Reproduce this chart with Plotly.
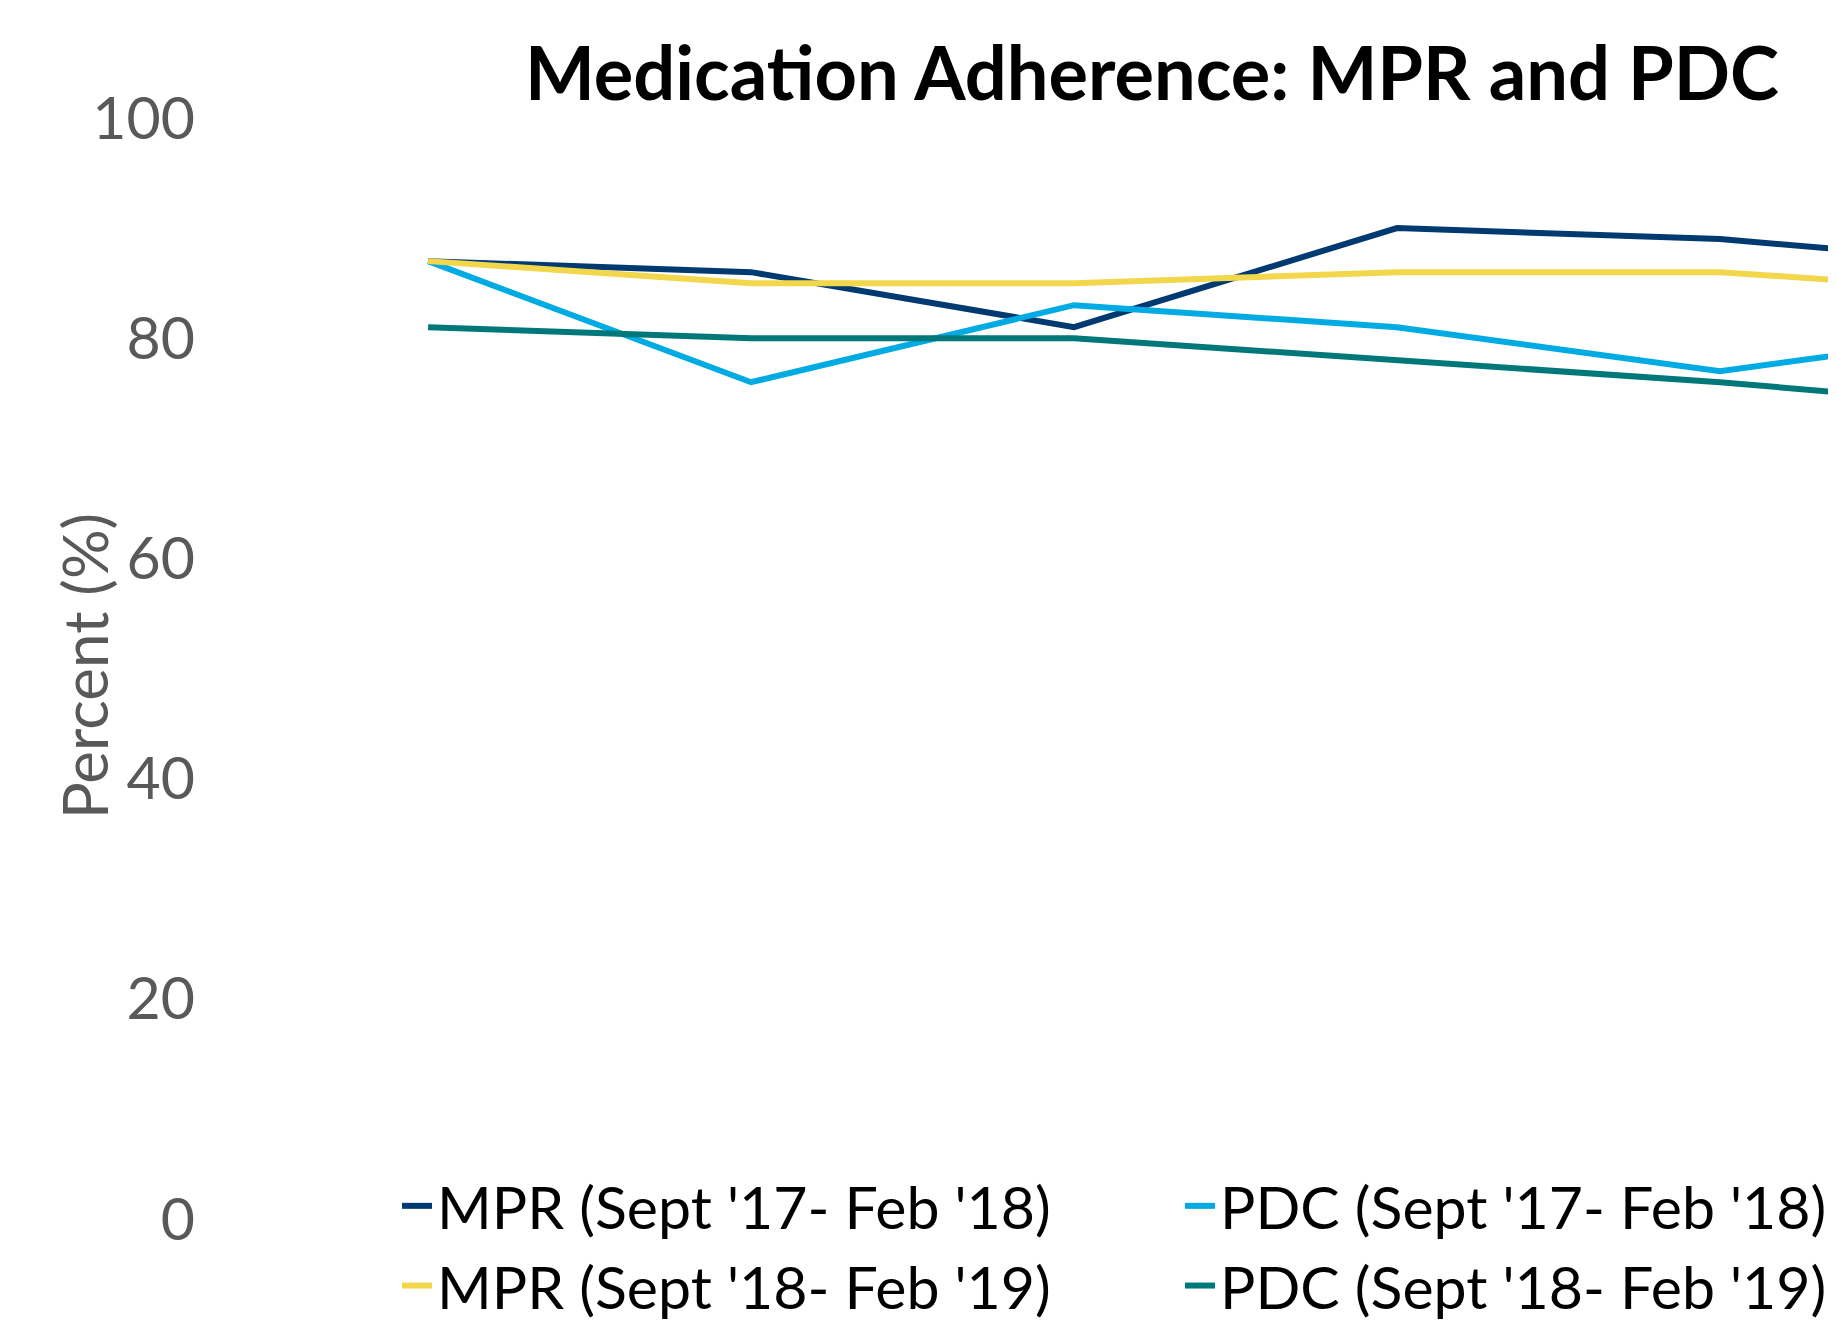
import plotly.graph_objects as go

months = ["Sep", "Oct", "Nov", "Dec", "Jan", "Feb"]
mpr_17_18 = [87, 86, 81, 90, 89, 86.5]
pdc_17_18 = [87, 76, 83, 81, 77, 81]
mpr_18_19 = [87, 85, 85, 86, 86, 84]
pdc_18_19 = [81, 80, 80, 78, 76, 73.5]

names = ["MPR (Sept '17- Feb '18)", "PDC (Sept '17- Feb '18)",
         "MPR (Sept '18- Feb '19)", "PDC (Sept '18- Feb '19)"]
series = [mpr_17_18, pdc_17_18, mpr_18_19, pdc_18_19]
colors = ["#003A70", "#00AAE2", "#F2D64B", "#00787A"]

W, H = 1836, 1321
L, R, T, B = 205, 0, 110, 110

fig = go.Figure()
for n, s, c in zip(names, series, colors):
    fig.add_trace(go.Scatter(x=list(range(len(months))), y=s, name=n, mode="lines",
                             line=dict(color=c, width=6)))

fig.update_layout(
    width=W, height=H,
    margin=dict(l=L, r=R, t=T, b=B, autoexpand=False),
    paper_bgcolor="white", plot_bgcolor="white",
    font=dict(family="Lato", color="#000000"),
    title=dict(text="<b>Medication Adherence: MPR and PDC</b>",
               font=dict(family="Lato", size=74, color="#000000"),
               x=1144 / W, xanchor="center", xref="container",
               y=1 - 66 / H, yanchor="middle", yref="container"),
    xaxis=dict(range=[-0.666, 4.384], showgrid=False, zeroline=False,
               showticklabels=False, showline=False,
               tickvals=list(range(len(months))), ticktext=months),
    yaxis=dict(range=[0, 100], tickvals=[0, 20, 40, 60, 80, 100],
               showgrid=False, zeroline=False, showline=False,
               tickfont=dict(family="Lato", size=59, color="#595959"),
               ticklabelstandoff=17),
    legend=dict(orientation="h", xref="container", yref="container",
                x=389 / W, xanchor="left", y=1 - 1153 / H, yanchor="top",
                font=dict(family="Lato", size=59, color="#000000"),
                entrywidth=738, entrywidthmode="pixels",
                bgcolor="rgba(0,0,0,0)", tracegroupgap=0),
    showlegend=True,
)
fig.add_annotation(text="Percent (%)", textangle=-90, xref="paper", yref="paper",
                   x=(76 - L) / (W - L), y=0.502, xanchor="center", yanchor="middle",
                   showarrow=False, font=dict(family="Lato", size=62, color="#595959"))

fig.write_html("out.html")
